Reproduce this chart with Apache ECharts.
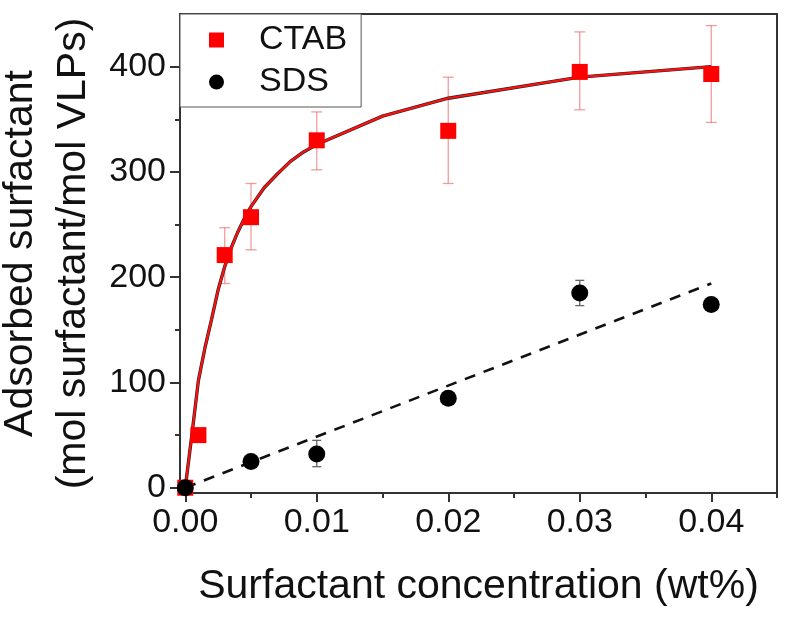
<!DOCTYPE html>
<html>
<head>
<meta charset="utf-8">
<script src="https://cdn.jsdelivr.net/npm/echarts@6/dist/echarts.min.js"></script>
<style>
html,body{margin:0;padding:0;background:#fff;}
#chart{width:800px;height:620px;}
</style>
</head>
<body>
<div id="chart"></div>
<script>
// ---- data ----
const ctabX = [0, 0.001, 0.003, 0.005, 0.01, 0.02, 0.03, 0.04];
const ctabY = [0, 50, 221, 257, 330, 339, 395, 393];
const ctabErrLow = [null, null, 194, 226, 302, 289, 359, 347];
const ctabErrHigh = [null, null, 247, 289, 357, 390, 433, 439];

const sdsX = [0, 0.005, 0.01, 0.02, 0.03, 0.04];
const sdsY = [0, 25, 32, 85, 185, 174];
const sdsErrLow = [null, null, 20, null, 173, null];
const sdsErrHigh = [null, null, 45, null, 197, null];

const ctabFitX = [0, 0.0005, 0.001, 0.0015, 0.002, 0.0025, 0.003, 0.0035, 0.004, 0.0045, 0.005, 0.006, 0.007, 0.008, 0.009, 0.01, 0.015, 0.02, 0.03, 0.04];
const ctabFitY = [0, 50, 102, 133, 160, 188, 210, 228, 243, 256, 267, 285, 298, 310, 319, 326, 353, 370, 390, 400];

const sdsFitX = [0, 0.04];
const sdsFitY = [0, 194];

const xTicks = [0, 0.01, 0.02, 0.03, 0.04];
const xMinorTicks = [0.005, 0.015, 0.025, 0.035, 0.045];
const yTicks = [0, 100, 200, 300, 400];
const yMinorTicks = [50, 150, 250, 350];

const seriesNames = ['CTAB', 'SDS'];
const xTitle = 'Surfactant concentration (wt%)';
const yTitle = 'Adsorbed surfactant\n(mol surfactant/mol VLPs)';

// ---- chart ----
const FONT = '"Liberation Sans Narrow", "Arial Narrow", "Liberation Sans", Arial, sans-serif';
const AX = '#333';
const chart = echarts.init(document.getElementById('chart'), null, {renderer: 'canvas'});

function pairs(xs, ys) { return xs.map((x, i) => [x, ys[i]]); }
function errData(xs, lo, hi) {
  const out = [];
  xs.forEach((x, i) => { if (lo[i] != null) out.push([x, lo[i], hi[i]]); });
  return out;
}
function errSeries(data, color, capW, lw) {
  return {
    type: 'custom', xAxisIndex: 0, yAxisIndex: 0, z: 2, silent: true,
    encode: {x: 0, y: [1, 2]},
    data: data,
    renderItem: function (params, api) {
      const x = api.value(0);
      const p1 = api.coord([x, api.value(1)]);
      const p2 = api.coord([x, api.value(2)]);
      const h = capW / 2;
      const st = {stroke: color, lineWidth: lw};
      return {type: 'group', children: [
        {type: 'line', shape: {x1: p1[0], y1: p1[1], x2: p2[0], y2: p2[1]}, style: st},
        {type: 'line', shape: {x1: p1[0] - h, y1: p1[1], x2: p1[0] + h, y2: p1[1]}, style: st},
        {type: 'line', shape: {x1: p2[0] - h, y1: p2[1], x2: p2[0] + h, y2: p2[1]}, style: st}
      ]};
    }
  };
}

const option = {
  backgroundColor: '#fff',
  animation: false,
  grid: {left: 180, right: 23, top: 14, bottom: 127, show: true, borderColor: AX, borderWidth: 2,
    backgroundColor: 'transparent', containLabel: false, outerBoundsMode: 'none'},
  legend: {
    data: seriesNames,
    orient: 'vertical',
    left: 180, top: 14,
    padding: [9, 14, 8, 29],
    itemWidth: 15, itemHeight: 15, itemGap: 8,
    borderColor: '#555', borderWidth: 1,
    backgroundColor: '#fff',
    textStyle: {fontFamily: FONT, fontSize: 34, color: '#111', padding: [0, 0, 0, 30]}
  },
  xAxis: [{
    type: 'value', min: -0.0004, max: 0.045,
    name: xTitle, nameLocation: 'middle', nameGap: 73, nameMoveOverlap: false,
    nameTextStyle: {fontFamily: FONT, fontSize: 41, color: '#111'},
    axisLine: {show: true, onZero: false, lineStyle: {color: AX, width: 2}},
    axisTick: {show: true, inside: false, length: 9, lineStyle: {color: AX, width: 2}, customValues: xTicks},
    axisLabel: {fontFamily: FONT, fontSize: 34, color: '#111', margin: 13, customValues: xTicks,
      formatter: v => v.toFixed(2)},
    splitLine: {show: false}
  }, {
    type: 'value', min: -0.0004, max: 0.045, position: 'bottom',
    axisLine: {show: false, onZero: false},
    axisTick: {show: true, inside: false, length: 5, lineStyle: {color: AX, width: 2}, customValues: xMinorTicks},
    axisLabel: {show: false},
    splitLine: {show: false}
  }],
  yAxis: [{
    type: 'value', min: -5, max: 450,
    name: yTitle, nameLocation: 'middle', nameGap: 80, nameRotate: 90, nameMoveOverlap: false,
    nameTextStyle: {fontFamily: FONT, fontSize: 41, color: '#111', lineHeight: 53},
    axisLine: {show: true, onZero: false, lineStyle: {color: AX, width: 2}},
    axisTick: {show: true, inside: false, length: 10, lineStyle: {color: AX, width: 2}, customValues: yTicks},
    axisLabel: {fontFamily: FONT, fontSize: 34, color: '#111', margin: 14, customValues: yTicks},
    splitLine: {show: false}
  }, {
    type: 'value', min: -5, max: 450, position: 'left',
    axisLine: {show: false, onZero: false},
    axisTick: {show: true, inside: false, length: 5, lineStyle: {color: AX, width: 2}, customValues: yMinorTicks},
    axisLabel: {show: false},
    splitLine: {show: false}
  }],
  series: [
    errSeries(errData(ctabX, ctabErrLow, ctabErrHigh), 'rgba(235,90,90,0.6)', 11, 1.3),
    errSeries(errData(sdsX, sdsErrLow, sdsErrHigh), '#666', 9, 1.3),
    {
      name: 'CTAB fit shadow', type: 'line', xAxisIndex: 0, yAxisIndex: 0, z: 3,
      data: pairs(ctabFitX, ctabFitY), showSymbol: false, symbol: 'none', silent: true,
      lineStyle: {color: '#222', width: 3.4}
    },
    {
      name: 'CTAB fit', type: 'line', xAxisIndex: 0, yAxisIndex: 0, z: 4,
      data: pairs(ctabFitX, ctabFitY), showSymbol: false, symbol: 'none', silent: true,
      lineStyle: {color: '#ff1010', width: 2.2}
    },
    {
      name: 'SDS fit', type: 'line', xAxisIndex: 0, yAxisIndex: 0, z: 3,
      data: pairs(sdsFitX, sdsFitY), showSymbol: false, symbol: 'none', silent: true,
      lineStyle: {color: '#111', width: 2.6, type: [11, 9]}
    },
    {
      name: 'CTAB', type: 'scatter', xAxisIndex: 0, yAxisIndex: 0, z: 5,
      data: pairs(ctabX, ctabY), symbol: 'rect', symbolSize: 16,
      itemStyle: {color: '#ff0000', opacity: 1}
    },
    {
      name: 'SDS', type: 'scatter', xAxisIndex: 0, yAxisIndex: 0, z: 5,
      data: pairs(sdsX, sdsY), symbol: 'circle', symbolSize: 17,
      itemStyle: {color: '#000', opacity: 1}
    }
  ]
};
chart.setOption(option);
</script>
</body>
</html>
